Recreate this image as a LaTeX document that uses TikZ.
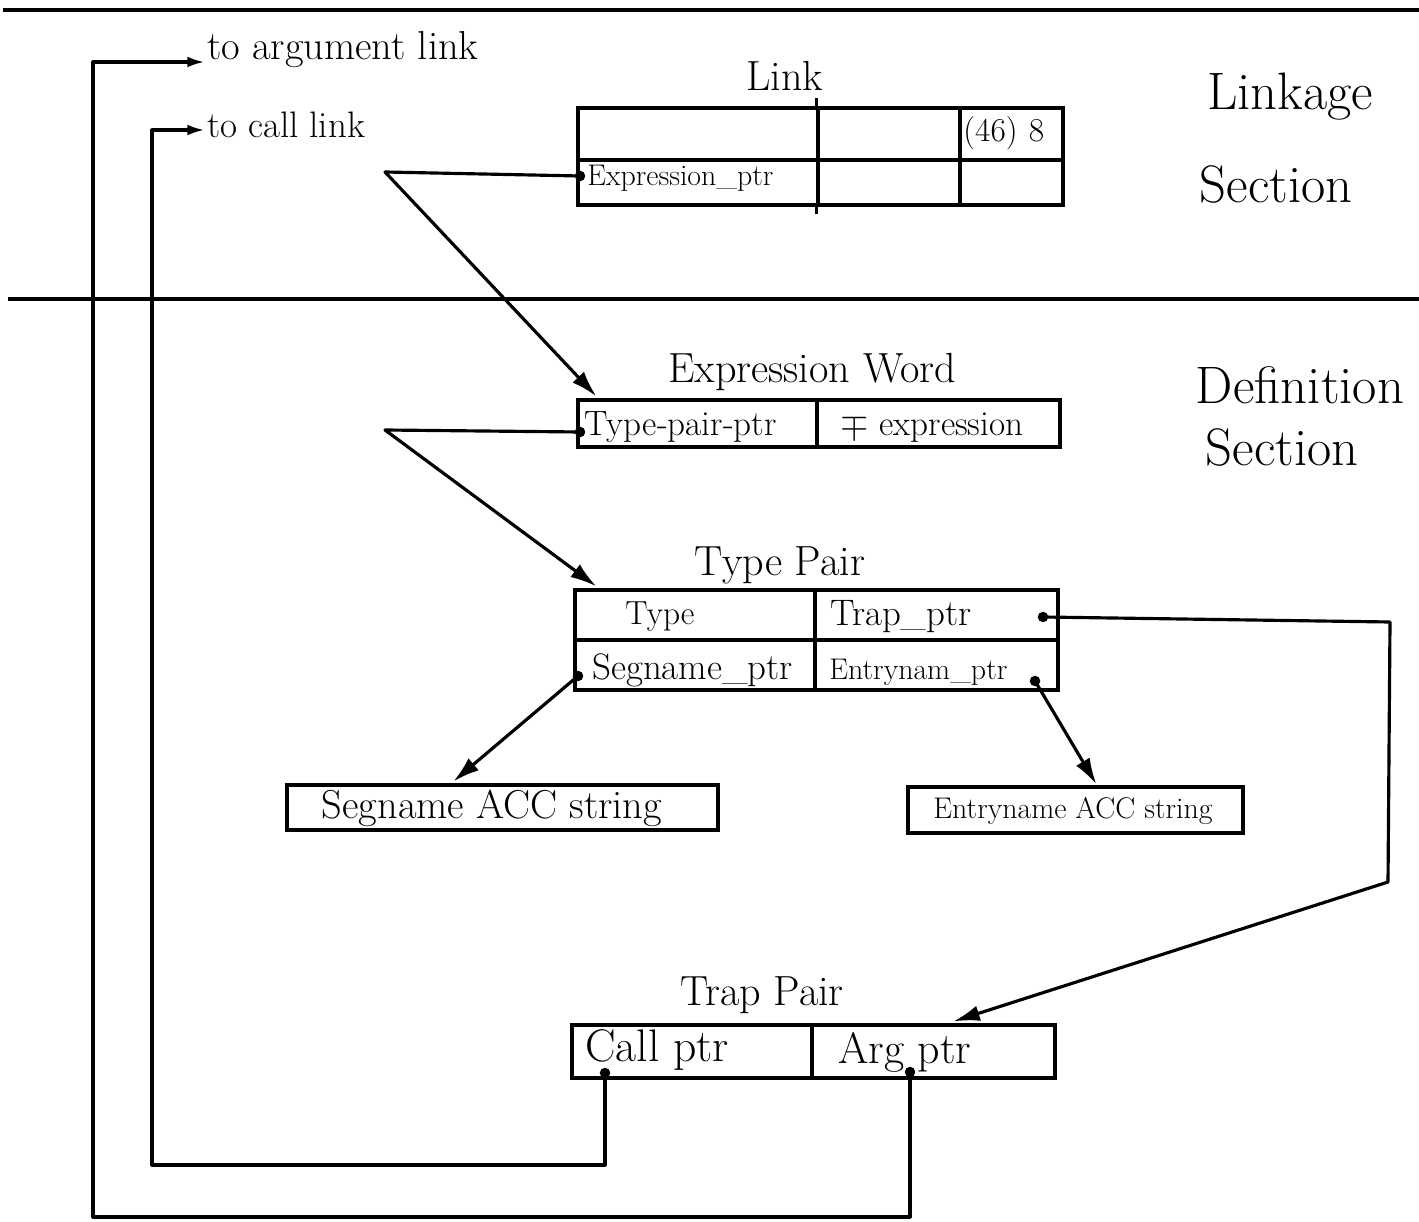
\documentclass[tikz,border=0pt]{standalone}
\usetikzlibrary{fit,calc,arrows.meta}
\begin{document}
\begin{tikzpicture}[x=0.02cm,y=-0.02cm,
  cell/.style={draw,line width=1.8pt,inner sep=0pt},
  wire/.style={line width=1.8pt,line join=round},
  arr/.style={wire,-{Latex[length=15pt,width=9pt]}},
  sarr/.style={wire,-{Latex[length=10pt,width=6pt]}},
  pdot/.style={circle,fill,inner sep=0pt,minimum size=6pt},
  title/.style={font=\fontsize{24}{28}\selectfont},
  big/.style={font=\fontsize{30}{34}\selectfont},
  txt/.style={font=\fontsize{17}{20}\selectfont,anchor=west,inner sep=0pt},
  note/.style={font=\fontsize{23}{26}\selectfont,anchor=west,inner sep=1pt}]
\useasboundingbox (0,0) rectangle (1419,1222);

% section separators
\draw[line width=2.6pt] (3,10) -- (1419,10);
\draw[line width=2.2pt] (8,299) -- (1419,299);

% section labels
\node[big] (linkage) at (1290,97) {Linkage};
\node[big] (sec1) at (1276,185) {Section};
\node[big] (defn) at (1300,385) {Definition};
\node[big] (sec2) at (1282,448) {Section};

% ---------- Link ----------
\node[title] (linkt) at (785,76) {Link};
\node[cell,fit={(578,108)(818,160)}] (lk11) {};
\node[cell,fit={(818,108)(960,160)}] (lk12) {};
\node[cell,fit={(960,108)(1063,160)}] (lk13) {};
\node[cell,fit={(578,160)(818,205)}] (lk21) {};
\node[cell,fit={(818,160)(960,205)}] (lk22) {};
\node[cell,fit={(960,160)(1063,205)}] (lk23) {};
\draw[wire] ($(lk12.north west)+(0,-8)$) -- (lk12.north west);
\draw[wire] (lk22.south west) -- ($(lk22.south west)+(0,7)$);
\node[txt,font=\fontsize{19}{22}\selectfont] (n46) at (963,133) {(46)\,\,8};
\node[txt] (exptxt) at (587,178) {Expression\_ptr};
\node[pdot] (expdot) at (580,176) {};

% ---------- Expression Word ----------
\node[title] (ewt) at (812,372) {Expression Word};
\node[cell,fit={(578,400)(817,447)}] (ew1) {};
\node[cell,fit={(817,400)(1060,447)}] (ew2) {};
\node[txt,font=\fontsize{20}{23}\selectfont] (tpptxt) at (584,427) {Type-pair-ptr};
\node[txt,font=\fontsize{20}{23}\selectfont] (mptxt) at (840,428) {$\mp$ expression};
\node[pdot] (tpdot) at (580,432) {};

% ---------- Type Pair ----------
\node[title] (tpt) at (780,565) {Type Pair};
\node[cell,fit={(575,590)(815,640)}] (tp11) {};
\node[cell,fit={(815,590)(1058,640)}] (tp12) {};
\node[cell,fit={(575,640)(815,690)}] (tp21) {};
\node[cell,fit={(815,640)(1058,690)}] (tp22) {};
\node[txt,font=\fontsize{19}{22}\selectfont] (typetxt) at (625,617) {Type};
\node[txt,font=\fontsize{21}{24}\selectfont] (traptxt) at (830,617) {Trap\_ptr};
\node[txt,font=\fontsize{21}{24}\selectfont] (segtxt) at (592,670) {Segname\_ptr};
\node[txt] (enttxt) at (829,672) {Entrynam\_ptr};
\node[pdot] (trapdot) at (1043,617) {};
\node[pdot] (segdot) at (578,676) {};
\node[pdot] (entdot) at (1035,681) {};

% ---------- ACC strings ----------
\node[cell,fit={(287,785)(718,830)}] (segbox) {};
\node[font=\fontsize{23}{26}\selectfont] (segbt) at (492,808) {Segname ACC string};
\node[cell,fit={(908,787)(1243,833)}] (entbox) {};
\node[font=\fontsize{17}{20}\selectfont] (entbt) at (1073,811) {Entryname ACC string};

% ---------- Trap Pair ----------
\node[title] (trt) at (762,995) {Trap Pair};
\node[cell,fit={(572,1025)(812,1078)}] (tr1) {};
\node[cell,fit={(812,1025)(1055,1078)}] (tr2) {};
\node[txt,font=\fontsize{26}{30}\selectfont] (calltxt) at (585,1050) {Call ptr};
\node[txt,font=\fontsize{25}{28}\selectfont] (argtxt) at (838,1052) {Arg ptr};
\node[pdot] (calldot) at (605,1073) {};
\node[pdot] (argdot) at (910,1072) {};

% ---------- free-end notes ----------
\node[note] (toarg) at (205,50) {to argument link};
\node[note,font=\fontsize{21}{24}\selectfont] (tocall) at (205,125) {to call link};

% ---------- corner coordinates ----------
\coordinate (c1) at (385,172);
\coordinate (c2) at (385,430);
\coordinate (r1) at (1390,622);
\coordinate (r2) at (1388,882);
\coordinate (k1) at (605,1165);
\coordinate (k2) at (152,1165);
\coordinate (k3) at (152,130);
\coordinate (a1) at (910,1217);
\coordinate (a2) at (93,1217);
\coordinate (a3) at (93,62);

% ---------- connectors ----------
\draw[arr] (expdot.center) -- (c1) -- ($(ew1.north west)+(20,-2)$);
\draw[arr] (tpdot.center) -- (c2) -- ($(tp11.north west)+(23,-2)$);
\draw[arr] (segdot.center) -- ($(segbox.north west)+(168,-2)$);
\draw[arr] (entdot.center) -- ($(entbox.north west)+(190,-1)$);
\draw[arr] (trapdot.center) -- (r1) -- (r2) -- ($(tr2.north west)+(143,-2)$);
\draw[sarr] (calldot.center) -- (k1) -- (k2) -- (k3) -- (tocall.west |- k3);
\draw[sarr] (argdot.center) -- (a1) -- (a2) -- (a3) -- (toarg.west |- a3);
\end{tikzpicture}
\end{document}
